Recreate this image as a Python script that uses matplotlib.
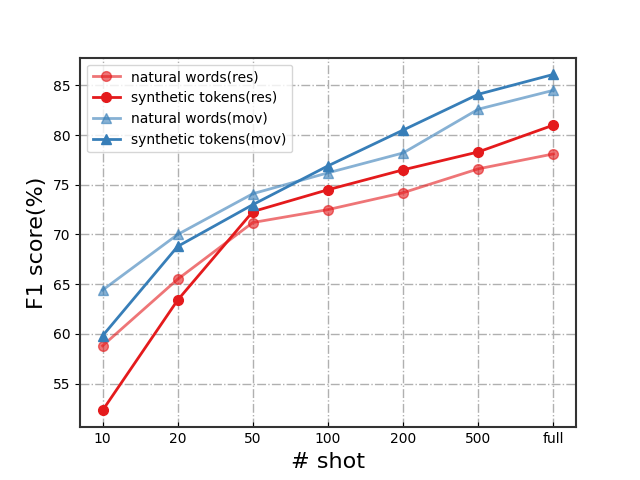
import numpy as np
import matplotlib
matplotlib.use('Agg')
import matplotlib.pyplot as plt

shots = ['10', '20', '50', '100', '200', '500', 'full']

nat_res = [58.8, 65.5, 71.2, 72.5, 74.2, 76.6, 78.1]
syn_res = [52.3, 63.4, 72.3, 74.5, 76.5, 78.3, 81.0]
nat_mov = [64.4, 70.0, 74.1, 76.2, 78.2, 82.6, 84.5]
syn_mov = [59.8, 68.8, 73.0, 76.9, 80.5, 84.1, 86.1]

red = '#e41a1c'
blue = '#377eb8'

x = np.arange(len(shots))

fig, ax = plt.subplots(figsize=(6.4, 4.8), dpi=100)
ax.plot(x, nat_res, marker='o', color=red, alpha=0.6, lw=2, ms=7, label='natural words(res)')
ax.plot(x, syn_res, marker='o', color=red, lw=2, ms=7, label='synthetic tokens(res)')
ax.plot(x, nat_mov, marker='^', color=blue, alpha=0.6, lw=2, ms=7, label='natural words(mov)')
ax.plot(x, syn_mov, marker='^', color=blue, lw=2, ms=7, label='synthetic tokens(mov)')

ax.set_xticks(x)
ax.set_xticklabels(shots)
ax.set_xlabel('# shot', fontsize=16)
ax.set_ylabel('F1 score(%)', fontsize=16)
ax.grid(True, linestyle='-.', color='#b0b0b0', lw=1)
ax.tick_params(axis='x', direction='in')
ax.tick_params(axis='y', direction='out')
for s in ax.spines.values():
    s.set_linewidth(1.5)
    s.set_color('#333333')
ax.legend(loc='upper left', fontsize=10)

plt.savefig('out.png')
